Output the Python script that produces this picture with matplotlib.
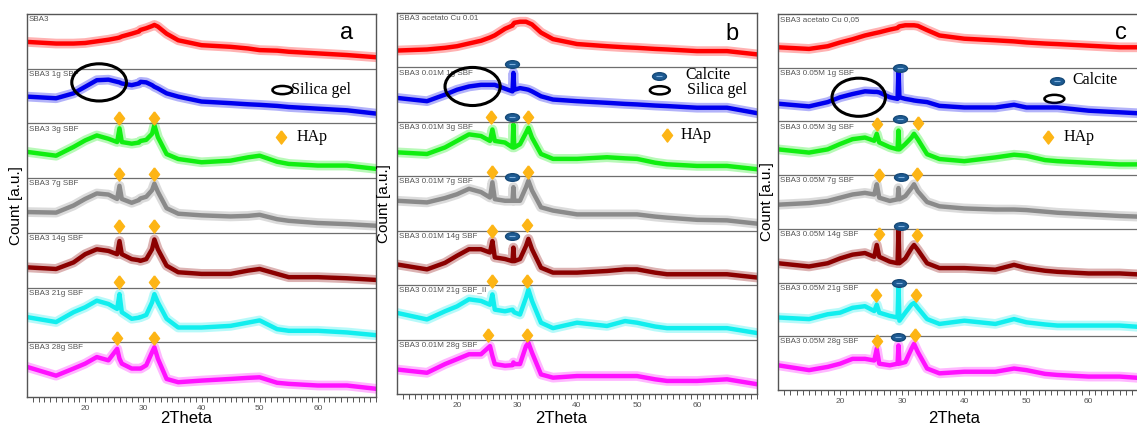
import matplotlib.pyplot as plt
from matplotlib.patches import Ellipse
from matplotlib.path import Path
from matplotlib.transforms import Affine2D

plt.rcParams['font.family'] = ['Liberation Sans', 'DejaVu Sans']

TH = [10, 15, 18, 20, 22, 24, 25.5, 25.9, 26.3, 28, 29.25, 29.4, 29.55, 30.5,
      31.5, 31.9, 32.5, 34, 36, 40, 45, 48, 50, 53, 55, 60, 65, 70]

# panel a (intensity inside each strip, 0 = strip bottom, 1 = strip top)
a_sba3 = [.49, .46, .46, .47, .50, .53, .56, .57, .59, .64, .68, .70, .71, .74,
          .78, .80, .77, .64, .52, .43, .40, .37, .34, .33, .31, .28, .25, .21]
a_1g = [.49, .46, .55, .67, .79, .80, .76, .75, .73, .70, .73, .75, .76, .75,
        .70, .67, .64, .55, .49, .40, .37, .35, .34, .32, .30, .27, .24, .18]
a_3g = [.48, .41, .57, .69, .78, .72, .66, .91, .66, .63, .65, .67, .68, .70,
        .81, .97, .75, .44, .35, .29, .32, .38, .41, .30, .26, .23, .23, .17]
a_7g = [.38, .37, .50, .62, .72, .70, .62, .86, .62, .55, .60, .62, .63, .66,
        .78, .90, .75, .45, .35, .32, .30, .31, .33, .25, .22, .18, .16, .13]
a_14g = [.37, .34, .46, .61, .70, .67, .61, .85, .61, .52, .50, .49, .49, .52,
         .70, .88, .70, .40, .28, .25, .25, .31, .34, .25, .19, .19, .17, .14]
a_21g = [.46, .37, .55, .64, .76, .70, .61, .88, .55, .43, .45, .46, .46, .50,
         .73, .88, .73, .43, .27, .27, .30, .36, .40, .24, .21, .21, .18, .13]
a_28g = [.55, .39, .52, .61, .73, .67, .88, .70, .61, .52, .52, .52, .52, .58,
         .82, .91, .70, .33, .27, .30, .33, .35, .36, .26, .24, .21, .21, .15]

# panel b
b_cu = [.31, .33, .36, .39, .44, .49, .55, .57, .59, .71, .77, .80, .82, .84,
        .84, .82, .79, .64, .52, .43, .39, .37, .36, .34, .33, .30, .30, .24]
b_1g = [.44, .38, .50, .59, .65, .68, .68, .68, .68, .61, .56, .90, .59, .62,
        .60, .59, .56, .47, .41, .38, .35, .33, .32, .30, .29, .26, .26, .16]
b_3g = [.44, .41, .53, .65, .77, .74, .65, .86, .65, .62, .53, .95, .53, .59,
        .80, .89, .71, .41, .32, .32, .35, .33, .32, .25, .22, .19, .19, .13]
b_7g = [.55, .52, .60, .67, .77, .71, .61, .89, .58, .55, .55, .80, .55, .55,
        .80, .92, .74, .43, .37, .30, .30, .30, .30, .26, .24, .20, .19, .13]
b_14g = [.38, .29, .41, .54, .66, .66, .60, .81, .51, .48, .44, .69, .44, .48,
         .72, .85, .66, .32, .23, .23, .26, .29, .29, .23, .20, .20, .20, .14]
b_21g = [.49, .37, .52, .61, .74, .71, .64, .83, .55, .52, .55, .52, .50, .46,
         .77, .92, .71, .31, .21, .31, .25, .34, .31, .24, .21, .21, .21, .12]
b_28g = [.45, .39, .55, .64, .73, .73, .88, .70, .55, .52, .53, .58, .55, .55,
         .88, .94, .76, .36, .30, .33, .33, .33, .33, .27, .24, .24, .27, .18]

# panel c
c_cu = [.38, .35, .40, .47, .53, .60, .64, .65, .66, .71, .74, .76, .77, .79,
        .79, .79, .78, .70, .60, .54, .51, .49, .47, .45, .44, .41, .38, .38]
c_1g = [.33, .28, .36, .45, .51, .56, .55, .55, .54, .45, .42, .97, .45, .42,
        .40, .39, .38, .36, .29, .26, .26, .31, .26, .26, .26, .20, .17, .14]
c_3g = [.48, .42, .48, .58, .67, .70, .64, .77, .61, .52, .48, .83, .48, .58,
        .70, .77, .67, .39, .30, .26, .33, .38, .36, .28, .26, .23, .20, .20]
c_7g = [.45, .48, .52, .58, .64, .67, .64, .83, .58, .52, .55, .76, .55, .61,
        .76, .83, .70, .50, .42, .38, .36, .36, .35, .32, .30, .27, .24, .22]
c_14g = [.36, .30, .36, .45, .52, .55, .48, .70, .48, .39, .36, .98, .36, .45,
         .64, .70, .61, .36, .27, .27, .24, .33, .27, .22, .20, .17, .17, .14]
c_21g = [.35, .32, .41, .44, .53, .56, .47, .59, .44, .38, .35, .96, .29, .44,
         .59, .62, .53, .32, .23, .29, .23, .32, .26, .22, .20, .20, .20, .16]
c_28g = [.46, .37, .43, .49, .58, .58, .55, .77, .49, .46, .49, .83, .49, .52,
         .77, .86, .71, .40, .31, .34, .34, .40, .37, .30, .28, .25, .25, .21]

a_labels = ['SBA3', 'SBA3 1g SBF', 'SBA3 3g SBF', 'SBA3 7g SBF', 'SBA3 14g SBF',
            'SBA3 21g SBF', 'SBA3 28g SBF']
b_labels = ['SBA3 acetato Cu 0.01', 'SBA3 0.01M 1g SBF', 'SBA3 0.01M 3g SBF',
            'SBA3 0.01M 7g SBF', 'SBA3 0.01M 14g SBF', 'SBA3 0.01M 21g SBF_II',
            'SBA3 0.01M 28g SBF']
c_labels = ['SBA3 acetato Cu 0,05', 'SBA3 0.05M 1g SBF', 'SBA3 0.05M 3g SBF',
            'SBA3 0.05M 7g SBF', 'SBA3 0.05M 14g SBF', 'SBA3 0.05M 21g SBF',
            'SBA3 0.05M 28g SBF']

colors = ['#ff0000', '#0000ee', '#11ee11', '#8a8a8a', '#8b0000', '#11eeee', '#ff11ff']

# peak markers: (2theta, y)
hap_a = [(25.9, 5.1), (31.9, 5.1), (25.9, 4.08), (31.9, 4.08), (25.9, 3.12), (31.9, 3.12),
         (25.9, 2.1), (31.9, 2.1), (25.4, 1.07), (31.8, 1.07)]
hap_b = [(25.7, 5.09), (31.8, 5.09), (25.9, 4.08), (31.9, 4.08), (25.9, 3.0), (31.6, 3.1),
         (25.9, 2.07), (31.7, 2.07), (25.2, 1.08), (31.6, 1.08)]
hap_c = [(26.0, 4.95), (32.5, 4.98), (26.3, 4.0), (32.4, 4.03), (26.3, 2.91), (32.4, 2.88),
         (25.8, 1.77), (32.2, 1.77), (26.0, 0.92), (32.0, 1.02)]
cal_b = [(29.2, 6.06), (29.2, 5.09), (29.2, 3.98), (29.1, 2.91)]
cal_c = [(29.7, 6.0), (29.6, 5.05), (29.8, 3.97), (29.8, 3.06), (29.5, 2.0), (29.4, 0.98)]

fig = plt.figure(figsize=(11.37, 4.25), dpi=100)

diamond = [(0, 1), (0.77, 0), (0, -1), (-0.77, 0), (0, 1)]
oval = Path.unit_circle().transformed(Affine2D().scale(1, 0.55))
HAP_C = '#fdb515'
CAL_C = '#1d5b93'


def add_panel(l, t, r, b, xmax, traces, labels):
    ax = fig.add_axes([l / 1137, 1 - b / 425, (r - l) / 1137, (b - t) / 425])
    for i, vals in enumerate(traces):
        y = [6 - i + v for v in vals]
        ax.plot(TH, y, color=colors[i], lw=7, alpha=0.3)
        ax.plot(TH, y, color=colors[i], lw=3.2)
        ax.text(10.3, 7 - i - 0.04, labels[i], fontsize=5.8, color='#555555',
                ha='left', va='top')
    for k in range(1, 7):
        ax.axhline(k, color='#6e6e6e', lw=0.9)
    ax.set_xlim(10, xmax)
    ax.set_ylim(0, 7)
    ax.set_yticks([])
    ax.set_xticks([20, 30, 40, 50, 60])
    ax.set_xticks(range(11, int(xmax) + 1), minor=True)
    ax.tick_params(axis='x', which='both', length=3.5, width=0.7, color='#555555',
                   labelsize=6, labelcolor='#555555', pad=2)
    for s in ax.spines.values():
        s.set_color('#555555')
        s.set_linewidth(1.0)
    ax.set_xlabel('2Theta', fontsize=12)
    ax.set_ylabel('Count [a.u.]', fontsize=11)
    # xlabel top sits at about the same pixel row in all panels
    ax.xaxis.set_label_coords(0.5, -(411 - b) / (b - t))
    return ax


def put_hap(ax, pts):
    for x, y in pts:
        ax.plot(x, y, marker=diamond, ms=9.5, color=HAP_C, mec=HAP_C, zorder=5)


def put_cal(ax, pts):
    for x, y in pts:
        ax.plot(x, y, marker=oval, ms=10, color=CAL_C, mec='#174a78', zorder=5)
        ax.plot(x, y, marker='_', ms=4, mew=0.8, color='#7fb0dd', zorder=6)


serif = ['Liberation Serif', 'DejaVu Serif']

# panel a
ax = add_panel(27, 14, 376, 397, 70, [a_sba3, a_1g, a_3g, a_7g, a_14g, a_21g, a_28g], a_labels)
ax.xaxis.label.set_x(0.455)
ax.yaxis.set_label_coords(-0.012, 0.5)
ax.add_patch(Ellipse((22.4, 5.75), 9.4, 0.68, fill=False, ec='black', lw=2.2, zorder=6))
put_hap(ax, hap_a)
ax.add_patch(Ellipse((53.9, 5.61), 3.4, 0.15, fill=False, ec='black', lw=1.8))
ax.text(55.4, 5.61, 'Silica gel', family=serif, fontsize=11.5, va='center')
put_hap(ax, [(53.7, 4.75)])
ax.text(56.3, 4.75, 'HAp', family=serif, fontsize=11.5, va='center')
ax.text(64.9, 6.65, 'a', fontsize=17, ha='center', va='center')

# panel b
ax = add_panel(397, 13, 757, 394, 70, [b_cu, b_1g, b_3g, b_7g, b_14g, b_21g, b_28g], b_labels)
ax.xaxis.label.set_x(0.455)
ax.yaxis.set_label_coords(-0.017, 0.5)
ax.add_patch(Ellipse((22.6, 5.65), 9.2, 0.70, fill=False, ec='black', lw=2.2, zorder=6))
put_hap(ax, hap_b)
put_cal(ax, cal_b)
put_cal(ax, [(53.7, 5.84)])
ax.text(58.0, 5.87, 'Calcite', family=serif, fontsize=11.5, va='center')
ax.add_patch(Ellipse((53.8, 5.58), 3.3, 0.15, fill=False, ec='black', lw=1.8))
ax.text(58.3, 5.58, 'Silica gel', family=serif, fontsize=11.5, va='center')
put_hap(ax, [(55.0, 4.75)])
ax.text(57.3, 4.75, 'HAp', family=serif, fontsize=11.5, va='center')
ax.text(65.8, 6.62, 'b', fontsize=17, ha='center', va='center')

# panel c
ax = add_panel(778, 14, 1137, 390, 67.8, [c_cu, c_1g, c_3g, c_7g, c_14g, c_21g, c_28g], c_labels)
ax.xaxis.label.set_x(0.49)
ax.yaxis.set_label_coords(-0.012, 0.5)
ax.spines['right'].set_visible(False)
ax.add_patch(Ellipse((23.0, 5.45), 8.6, 0.71, fill=False, ec='black', lw=2.2, zorder=6))
put_hap(ax, hap_c)
put_cal(ax, cal_c)
put_cal(ax, [(55.0, 5.75)])
ax.text(57.4, 5.77, 'Calcite', family=serif, fontsize=11.5, va='center')
ax.add_patch(Ellipse((54.5, 5.42), 3.2, 0.15, fill=False, ec='black', lw=1.8))
put_hap(ax, [(53.4, 4.71)])
ax.text(56.0, 4.71, 'HAp', family=serif, fontsize=11.5, va='center')
ax.text(65.2, 6.65, 'c', fontsize=17, ha='center', va='center')

fig.savefig('out.png', dpi=100, facecolor='white')
